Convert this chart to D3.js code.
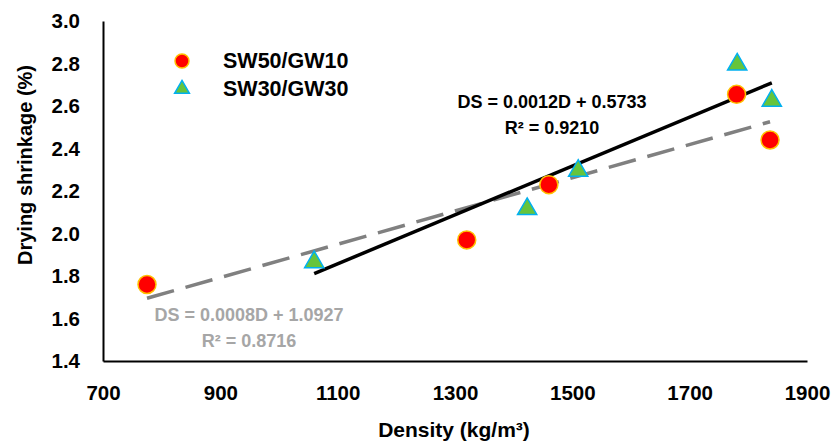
<!DOCTYPE html>
<html>
<head>
<meta charset="utf-8">
<script src="https://cdn.jsdelivr.net/npm/d3@7/dist/d3.min.js"></script>
<style>
  html, body { margin: 0; padding: 0; background: #fff; }
  svg { display: block; }
  text { font-family: "Liberation Sans", Arial, sans-serif; font-weight: bold; }
</style>
</head>
<body>
<svg id="chart" width="832" height="444"></svg>
<script>
// ---- data ----
const seriesNames = ["SW50/GW10", "SW30/GW30"];
const densitySW50 = [775, 1320, 1460, 1780, 1837];
const shrinkSW50  = [1.76, 1.97, 2.23, 2.655, 2.44];
const densitySW30 = [1060, 1423, 1510, 1781, 1840];
const shrinkSW30  = [1.87, 2.12, 2.30, 2.80, 2.63];
const xTicks = [700, 900, 1100, 1300, 1500, 1700, 1900];
const yTicks = [1.4, 1.6, 1.8, 2.0, 2.2, 2.4, 2.6, 2.8, 3.0];
const eqSW50 = ["DS = 0.0008D + 1.0927", "R² = 0.8716"];
const eqSW30 = ["DS = 0.0012D + 0.5733", "R² = 0.9210"];

const svg = d3.select("#chart");
const x = d3.scaleLinear().domain([700, 1900]).range([103, 807]);
const y = d3.scaleLinear().domain([1.4, 3.0]).range([361, 21]);

// axes
const xAxis = d3.axisBottom(x).tickValues(xTicks).tickSize(0).tickPadding(24).tickFormat(d3.format("d"));
const yAxis = d3.axisLeft(y).tickValues(yTicks).tickSize(0).tickPadding(23).tickFormat(d3.format(".1f"));

const gx = svg.append("g").attr("transform", `translate(0,${y(1.4)})`).call(xAxis);
const gy = svg.append("g").attr("transform", `translate(${x(700)},0)`).call(yAxis);
[gx, gy].forEach(g => {
  g.select(".domain").attr("stroke", "#000").attr("stroke-width", 2);
  g.selectAll("text").attr("fill", "#000").style("font-size", "20.5px").style("font-family", "'Liberation Sans', Arial, sans-serif").style("font-weight", "bold");
});

// axis titles
svg.append("text").attr("x", 454).attr("y", 437).attr("text-anchor", "middle")
  .style("font-size", "21px").text("Density (kg/m³)");
svg.append("text").attr("transform", "translate(32,165) rotate(-90)").attr("text-anchor", "middle")
  .style("font-size", "20px").text("Drying shrinkage (%)");

// linear regression
function fit(xs, ys) {
  const n = xs.length, mx = d3.mean(xs), my = d3.mean(ys);
  let sxy = 0, sxx = 0;
  for (let i = 0; i < n; i++) { sxy += (xs[i]-mx)*(ys[i]-my); sxx += (xs[i]-mx)**2; }
  const m = sxy / sxx;
  return { m, b: my - m*mx, x0: d3.min(xs), x1: d3.max(xs) };
}
const f50 = fit(densitySW50, shrinkSW50);
const f30 = fit(densitySW30, shrinkSW30);

const line = d3.line().x(d => x(d[0])).y(d => y(d[1]));
svg.append("path")
  .attr("d", line([[f50.x0, f50.m*f50.x0+f50.b], [f50.x1, f50.m*f50.x1+f50.b]]))
  .attr("stroke", "#808080").attr("stroke-width", 3.5).attr("stroke-dasharray", "28,12").attr("fill", "none");
svg.append("path")
  .attr("d", line([[f30.x0, f30.m*f30.x0+f30.b], [f30.x1, f30.m*f30.x1+f30.b]]))
  .attr("stroke", "#000").attr("stroke-width", 3.5).attr("fill", "none");

// markers
const pts50 = densitySW50.map((d, i) => [d, shrinkSW50[i]]);
const pts30 = densitySW30.map((d, i) => [d, shrinkSW30[i]]);
const circ = d3.symbol().type(d3.symbolCircle).size(Math.PI * 9 * 9);
const tri = d3.symbol().type(d3.symbolTriangle).size(160);

svg.append("g").selectAll("path").data(pts50).join("path")
  .attr("d", circ).attr("transform", d => `translate(${x(d[0])},${y(d[1])})`)
  .attr("fill", "#ff0000").attr("stroke", "#ffc000").attr("stroke-width", 1.5);
svg.append("g").selectAll("path").data(pts30).join("path")
  .attr("d", tri).attr("transform", d => `translate(${x(d[0])},${y(d[1])+1})`)
  .attr("fill", "#66c43c").attr("stroke", "#00b0f0").attr("stroke-width", 1.5);

// equations
const e30 = svg.append("text").attr("text-anchor", "middle").style("font-size", "18px").attr("fill", "#000");
e30.append("tspan").attr("x", 552).attr("y", 108).text(eqSW30[0]);
e30.append("tspan").attr("x", 552).attr("y", 134).text(eqSW30[1]);
const e50 = svg.append("text").attr("text-anchor", "middle").style("font-size", "18px").attr("fill", "#a6a6a6");
e50.append("tspan").attr("x", 249).attr("y", 321).text(eqSW50[0]);
e50.append("tspan").attr("x", 249).attr("y", 347).text(eqSW50[1]);

// legend
const leg = svg.append("g");
leg.append("path").attr("d", d3.symbol().type(d3.symbolCircle).size(Math.PI*7*7))
  .attr("transform", "translate(182,61)").attr("fill", "#ff0000").attr("stroke", "#ffc000").attr("stroke-width", 1.5);
leg.append("path").attr("d", d3.symbol().type(d3.symbolTriangle).size(95))
  .attr("transform", "translate(182,89)").attr("fill", "#66c43c").attr("stroke", "#00b0f0").attr("stroke-width", 1.5);
leg.append("text").attr("x", 223).attr("y", 68).style("font-size", "21.5px").text(seriesNames[0]);
leg.append("text").attr("x", 223).attr("y", 96).style("font-size", "21.5px").text(seriesNames[1]);
</script>
</body>
</html>
